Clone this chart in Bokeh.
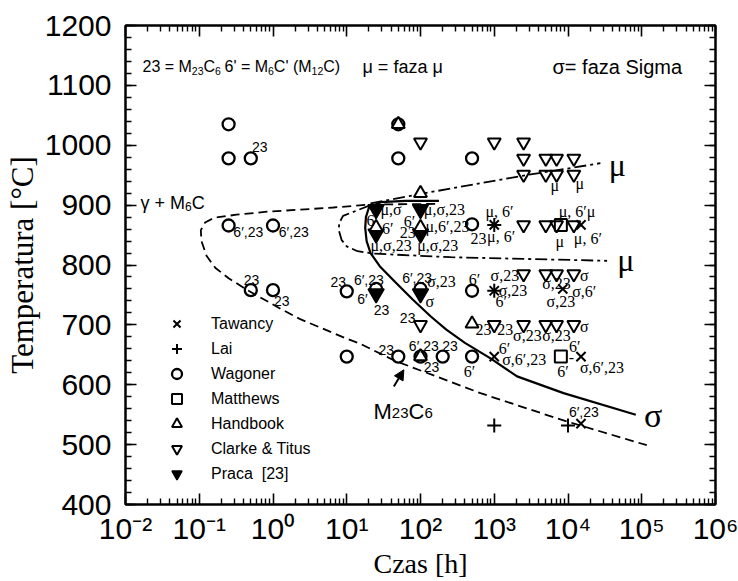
from bokeh.plotting import figure
from bokeh.models import (FixedTicker, LinearAxis, LogAxis, Label, LabelSet, Legend, LegendItem,
                          Arrow, NormalHead, Range1d, ColumnDataSource)
from bokeh.core.properties import value
from bokeh.embed import file_html
from bokeh.resources import INLINE

# ---------------- data (time in h, temperature in degC) ----------------
tawancy_t = [1000, 15000, 1000, 8500, 1000, 15000, 15000]
tawancy_T = [867, 867, 757, 760, 647, 647, 535]
lai_t = [1000, 1000, 1000, 10000]
lai_T = [867, 757, 532, 532]
wagoner_t = [0.25, 0.25, 0.5, 50, 50, 500, 0.25, 1, 500, 0.5, 1, 10, 25, 100, 500, 10, 50, 100, 200, 500]
wagoner_T = [1035, 978, 978, 1035, 978, 978, 866, 866, 868, 758, 758, 756, 760, 760, 757, 647, 647, 647, 647, 647]
matthews_t = [8000, 8000]
matthews_T = [867, 647]
handbook_t = [50, 100, 25, 100, 100, 500]
handbook_T = [1035, 920, 863, 863, 647, 702]
clarke_t = [100, 1000, 2500, 2500, 5000, 7000, 12000, 2500, 5000, 7000, 12000,
            2500, 5000, 7000, 12000, 2500, 5000, 7000, 12000, 100, 1000, 2500, 5000, 7000, 12000]
clarke_T = [1005, 1005, 1005, 978, 978, 978, 978, 951, 951, 951, 951,
            867, 867, 867, 867, 785, 785, 785, 785, 700, 700, 700, 700, 700, 700]
praca_t = [25, 100, 25, 100, 25, 100]
praca_T = [893, 893, 852, 852, 752, 752]

# phase boundaries
sigma_t = [178, 63, 29, 20, 18.2, 17.8, 18.6, 21, 28, 45, 79, 138, 224, 400, 890, 2040, 8700, 83000]
sigma_T = [907, 907, 905, 896, 880, 862, 840, 820, 798, 772, 742, 714, 692, 670, 644, 614, 586, 550]
m23_t = [158, 21, 6.6, 0.83, 0.32, 0.16, 0.12, 0.105, 0.107, 0.126, 0.166, 0.25, 0.45, 1.26, 2.3, 9.5, 15.5, 45, 650, 7900, 117000]
m23_T = [902, 901, 896, 889, 884, 879, 871, 858, 840, 815, 795, 778, 758, 727, 710, 678, 668, 640, 586, 542, 499]
mu_up_t = [21, 93, 2400, 27500]
mu_up_T = [903, 918, 949, 970]
mu_lo_t = [21, 8.9, 7.9, 7.8, 8.5, 10, 14, 23, 257, 33900]
mu_lo_T = [900, 882, 870, 858, 842, 831, 823, 819, 813, 807]

x_decades = [-2, -1, 0, 1, 2, 3, 4, 5, 6]
y_ticks = [400, 500, 600, 700, 800, 900, 1000, 1100, 1200]

# point annotations: (time, temp, text)
labels_sans = [
    (0.52, 997, "23"), (0.29, 855, "6′,23"), (1.2, 855, "6′,23"), (0.40, 775, "23"),
    (1.03, 740, "23"), (6.0, 772, "23"), (12.5, 775, "6′,23"), (13.9, 744, "6′"),
    (23.3, 725, "23"), (56.5, 778, "6′,23"), (52.5, 711, "23"), (27, 658, "23"),
    (69.5, 664, "6′,23"), (111, 630, "23"), (197, 664, "23"), (10300, 554, "6′,23"),
]
labels_serif = [
    (123, 772, "σ,23"), (117, 739, "σ"), (386, 622, "6′"), (1150, 661, "6′"),
    (1280, 642, "σ,6′,23"), (7130, 622, "6′"), (10200, 645, "-"), (10300, 664, "6′"),
    (14500, 628, "σ,6′,23"), (557, 692, "23"), (1100, 692, "23"), (1800, 683, "σ,23"),
    (4470, 683, "σ,23"), (14500, 697, "σ"), (890, 783, "σ,23"), (4470, 769, "σ,23"),
    (14500, 783, "σ"), (452, 775, "6′"), (1150, 758, "σ,23"), (1040, 739, "6′"),
    (11400, 756, "σ,6′"), (5130, 739, "σ,23"), (28.7, 893, "μ,σ"), (111, 893, "μ,σ,23"),
    (18.5, 875, "6′"), (30, 861, "6′"), (21, 832, "μ,σ,23"), (59.5, 872, "6′"),
    (52.5, 855, "23"), (117, 864, "μ,6′,23"), (90, 833, "μ,σ,23"), (476, 845, "23"),
    (760, 889, "μ, 6′"), (800, 847, "μ, 6′"), (6760, 839, "μ"), (7500, 889, "μ, 6′μ"),
    (12000, 845, "μ, 6′"), (5800, 933, "μ"), (12600, 936, "μ"),
]

SUP = {"-": "⁻", "0": "⁰", "1": "¹", "2": "²", "3": "³", "4": "⁴", "5": "⁵", "6": "⁶"}

# ---------------- figure ----------------
p = figure(width=738, height=581, x_axis_type="log",
           x_range=Range1d(1e-2, 1e6), y_range=Range1d(400, 1200),
           output_backend="svg", toolbar_location=None,
           min_border_left=125, min_border_right=23, min_border_top=25, min_border_bottom=76)
p.grid.visible = False
p.outline_line_color = "black"
p.outline_line_width = 2
p.background_fill_color = "white"
p.border_fill_color = "white"

xt = FixedTicker(ticks=[10.0 ** k for k in x_decades],
                 minor_ticks=[m * 10.0 ** k for k in x_decades[:-1] for m in range(2, 10)])
yt = FixedTicker(ticks=y_ticks, minor_ticks=list(range(400, 1201, 20)))


def style_axis(ax):
    ax.axis_line_width = 2
    ax.axis_line_color = "black"
    ax.major_tick_in = 11
    ax.major_tick_out = 0
    ax.minor_tick_in = 6
    ax.minor_tick_out = 0
    ax.major_tick_line_width = 1.6
    ax.minor_tick_line_width = 1.4
    ax.major_tick_line_color = "black"
    ax.minor_tick_line_color = "black"


bx = p.xaxis[0]
bx.ticker = xt
style_axis(bx)
bx.major_label_overrides = {10.0 ** k: "10" + "".join(SUP[c] for c in str(k)) for k in x_decades}
bx.major_label_text_font = "Liberation Sans"
bx.major_label_text_font_size = "30px"
bx.major_label_text_color = "black"
bx.major_label_standoff = 7
bx.axis_label = "Czas [h]"
bx.axis_label_text_font = "Liberation Serif"
bx.axis_label_text_font_size = "28px"
bx.axis_label_text_font_style = "normal"
bx.axis_label_text_color = "black"
bx.axis_label_standoff = 0

ly = p.yaxis[0]
ly.ticker = yt
style_axis(ly)
ly.major_label_text_font = "Liberation Sans"
ly.major_label_text_font_size = "30px"
ly.major_label_text_color = "black"
ly.major_label_standoff = 14
ly.axis_label = "Temperatura [°C]"
ly.axis_label_text_font = "Liberation Serif"
ly.axis_label_text_font_size = "31px"
ly.axis_label_text_font_style = "normal"
ly.axis_label_text_color = "black"
ly.axis_label_standoff = 2

ra = LinearAxis(ticker=yt)
style_axis(ra)
ra.major_label_text_color = None
p.add_layout(ra, "right")
ta = LogAxis(ticker=xt)
style_axis(ta)
ta.major_label_text_color = None
p.add_layout(ta, "above")

# ---------------- curves ----------------
p.line(m23_t, m23_T, line_color="black", line_width=1.8, line_dash="9 5")
p.line(sigma_t, sigma_T, line_color="black", line_width=2.2)
p.line(mu_up_t, mu_up_T, line_color="black", line_width=1.8, line_dash="12 4 3 4")
p.line(mu_lo_t, mu_lo_T, line_color="black", line_width=1.8, line_dash="12 4 3 4")

# ---------------- markers ----------------
r_wag = p.scatter(wagoner_t, wagoner_T, marker="circle", size=12, line_color="black",
                  fill_color=None, line_width=2.3)
r_pra = p.scatter(praca_t, praca_T, marker="inverted_triangle", size=16, line_color="black",
                  fill_color="black", line_width=1.5)
r_han = p.scatter(handbook_t, handbook_T, marker="triangle", size=13, line_color="black",
                  fill_color="white", line_width=2.0)
r_cla = p.scatter(clarke_t, clarke_T, marker="inverted_triangle", size=13, line_color="black",
                  fill_color=None, line_width=2.0)
r_mat = p.scatter(matthews_t, matthews_T, marker="square", size=12, line_color="black",
                  fill_color=None, line_width=2.0)
r_taw = p.scatter(tawancy_t, tawancy_T, marker="x", size=13, line_color="black", line_width=2.0)
r_lai = p.scatter(lai_t, lai_T, marker="cross", size=14, line_color="black", line_width=2.0)

legend = Legend(items=[
    LegendItem(label="Tawancy", renderers=[r_taw]),
    LegendItem(label="Lai", renderers=[r_lai]),
    LegendItem(label="Wagoner", renderers=[r_wag]),
    LegendItem(label="Matthews", renderers=[r_mat]),
    LegendItem(label="Handbook", renderers=[r_han]),
    LegendItem(label="Clarke & Titus", renderers=[r_cla]),
    LegendItem(label="Praca  [23]", renderers=[r_pra]),
], location=(39, 18), glyph_width=25, glyph_height=25, label_height=25, spacing=0,
    padding=0, margin=0, label_standoff=22, label_text_font="Liberation Sans",
    label_text_font_size="16px", label_text_color="black",
    background_fill_alpha=0, border_line_alpha=0)
p.add_layout(legend)

# ---------------- point annotations ----------------
src_sans = ColumnDataSource(dict(x=[a[0] for a in labels_sans], y=[a[1] for a in labels_sans],
                                 t=[a[2] for a in labels_sans]))
src_serif = ColumnDataSource(dict(x=[a[0] for a in labels_serif], y=[a[1] for a in labels_serif],
                                  t=[a[2] for a in labels_serif]))
p.add_layout(LabelSet(x="x", y="y", text="t", source=src_sans, text_align="left",
                      text_baseline="middle", text_font=value("Liberation Sans"),
                      text_font_size=value("14px"), text_color="black"))
p.add_layout(LabelSet(x="x", y="y", text="t", source=src_serif, text_align="left",
                      text_baseline="middle", text_font=value("Liberation Serif"),
                      text_font_size=value("16px"), text_color="black"))

# ---------------- compound texts ----------------
AW = {"0": .556, "1": .556, "2": .556, "3": .556, "6": .556, " ": .278, "=": .584, "M": .833,
      "C": .722, "'": .191, "(": .333, ")": .333, "f": .278, "a": .556, "z": .5, "S": .667,
      "i": .222, "g": .556, "m": .833, "μ": .577, "σ": .6, "γ": .5, "+": .584}


def rich(xo, yo, pieces, font="Liberation Sans"):
    off = 0.0
    for txt, size, dy in pieces:
        p.add_layout(Label(x=1e-2, y=1200, x_offset=xo + off, y_offset=yo + dy, text=txt,
                           text_font=font, text_font_size=f"{size}px", text_color="black",
                           text_align="left", text_baseline="alphabetic"))
        off += sum(AW.get(c, .556) for c in txt) * size


rich(17, -41, [("23 = M", 16, 0), ("23", 10.5, -4), ("C", 16, 0), ("6", 10.5, -4)])
rich(99, -41, [("6' = M", 16, 0), ("6", 10.5, -4), ("C' (M", 16, 0), ("12", 10.5, -4), ("C)", 16, 0)])
rich(237, -41, [("μ = faza μ", 18, 0)])
rich(427, -41, [("σ= faza Sigma", 20, 0)])
rich(15, -177, [("γ + M", 18, 0), ("6", 12, -4), ("C", 18, 0)])
rich(248, -386, [("M", 22, 0), ("23", 15, -1), ("C", 22, 0), ("6", 15, -1)])

# big phase labels
for (bt, bT, btxt, bsize) in [(35800, 967, "μ", 32), (46400, 808, "μ", 32), (107000, 548, "σ", 34)]:
    p.add_layout(Label(x=bt, y=bT, text=btxt, text_font="Liberation Serif",
                       text_font_size=f"{bsize}px", text_color="black",
                       text_align="left", text_baseline="middle"))

p.add_layout(Arrow(end=NormalHead(size=10, fill_color="black", line_color="black"),
                   x_start=43.5, y_start=597, x_end=59.5, y_end=625,
                   line_color="black", line_width=2))

open("out.html", "w").write(file_html(p, INLINE))
